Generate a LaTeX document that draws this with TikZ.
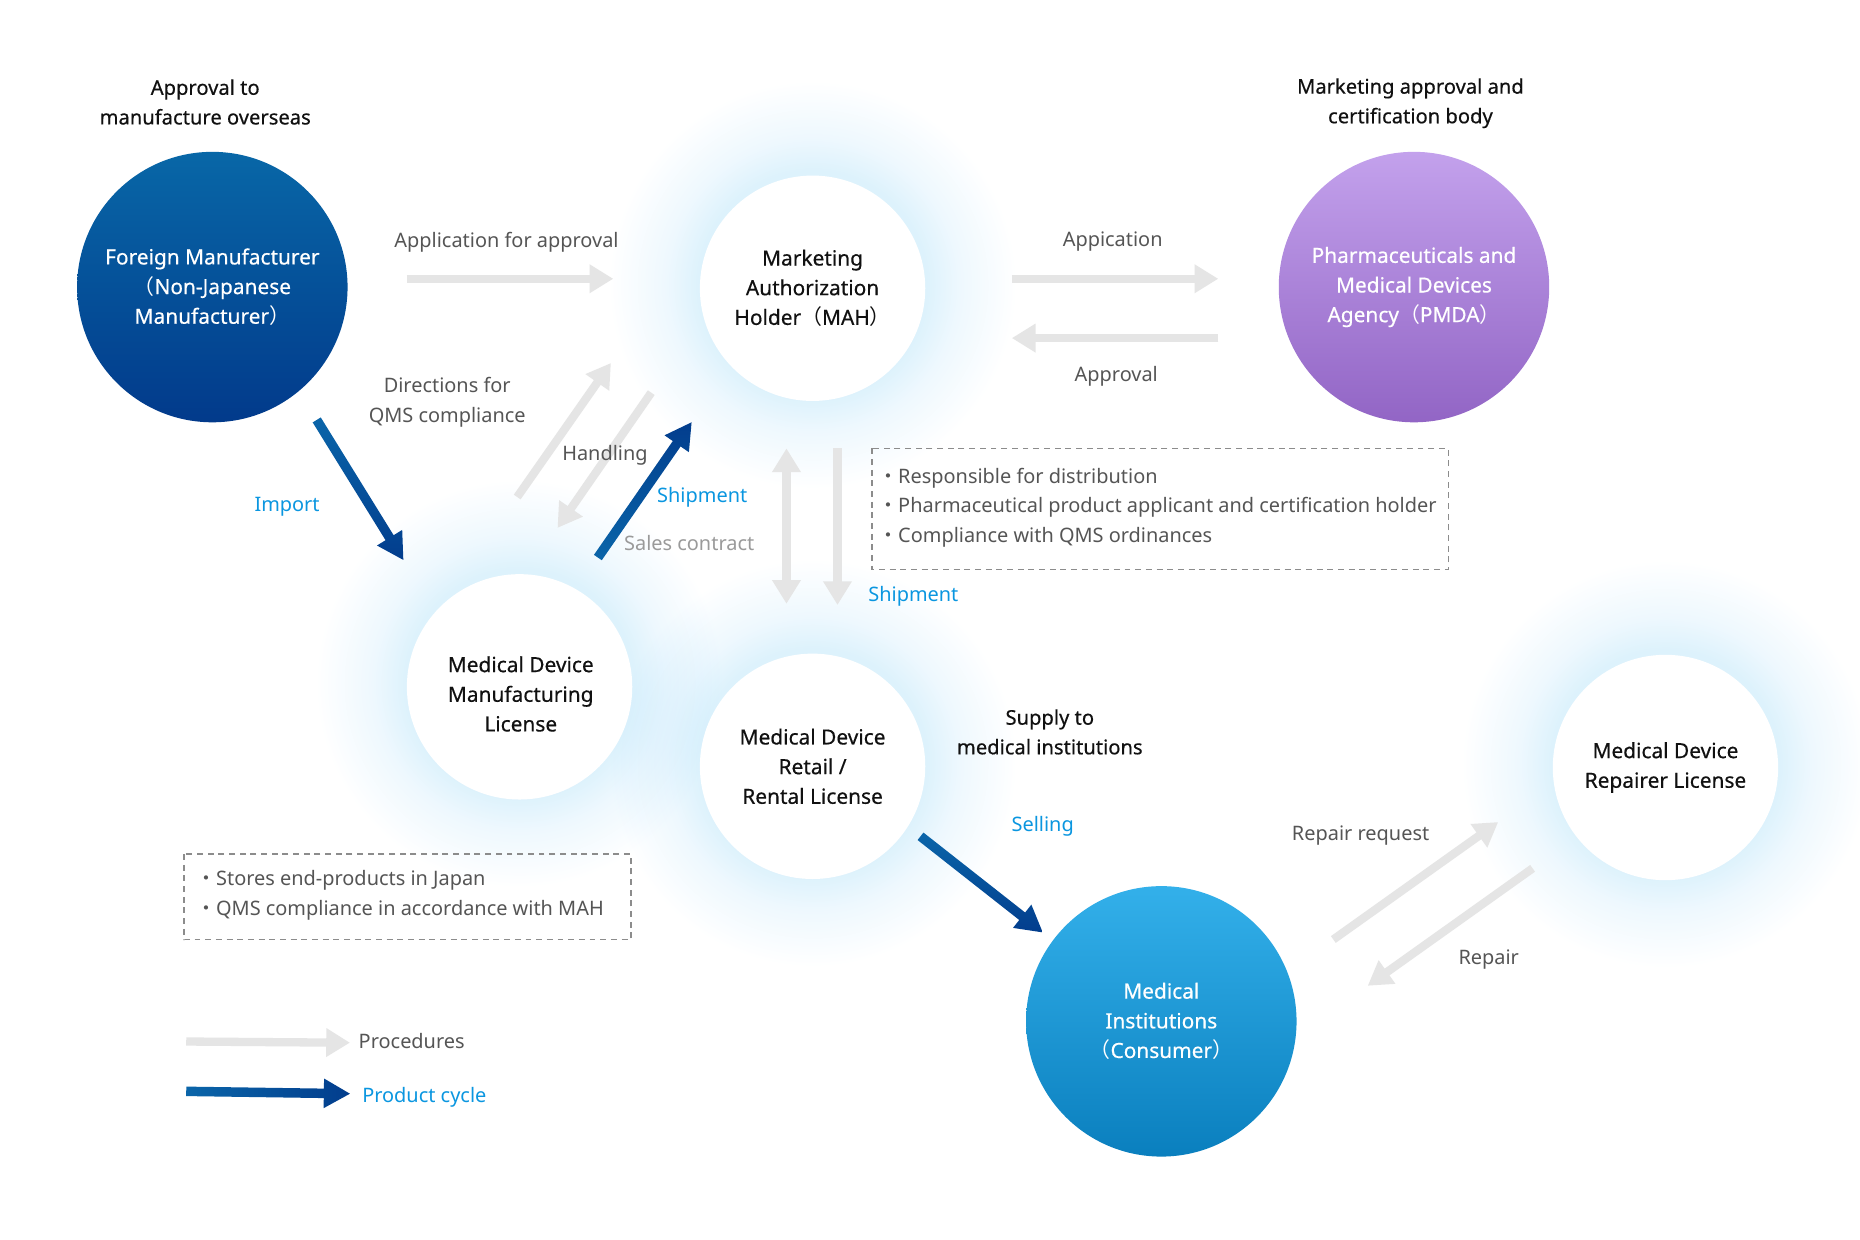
\documentclass[tikz,border=0pt]{standalone}
\usepackage{fontspec}
\setmainfont{Noto Sans}
\newfontfamily\medfont{Noto Sans}[FakeBold=0.45]
\newfontfamily\cjkfont{Noto Sans CJK JP}
\usetikzlibrary{arrows.meta,shadings,calc}
\newcommand{\fwlp}{{\cjkfont （}}
\newcommand{\fwrp}{{\cjkfont ）}}
\newcommand{\fwbul}{{\cjkfont ・}}
\newcommand{\labfont}{\fontsize{8.4}{12.5}\selectfont}
\newcommand{\blabfont}{\medfont\fontsize{8.5}{12.5}\selectfont}
\newcommand{\circfont}{\medfont\fontsize{8.8}{12.5}\selectfont}
\definecolor{procgray}{HTML}{E5E5E5}
\definecolor{prodtail}{HTML}{0A65A9}
\definecolor{prodhead}{HTML}{023D8D}
\definecolor{lblue}{HTML}{0A96E0}
\definecolor{tgray}{HTML}{555555}
\definecolor{tlgray}{HTML}{9A9A9A}
\definecolor{tblack}{HTML}{111111}
\definecolor{glowc}{HTML}{DDF2FC}
\definecolor{glowm}{HTML}{EEF8FE}
\definecolor{dashgray}{HTML}{8C8C8C}
\definecolor{fmtop}{HTML}{0867A7}
\definecolor{fmbot}{HTML}{023A8B}
\definecolor{pmtop}{HTML}{C3A1EC}
\definecolor{pmbot}{HTML}{9265C5}
\definecolor{mitop}{HTML}{33B0EA}
\definecolor{mibot}{HTML}{0A7FBE}
\pgfdeclareradialshading{glowshade}{\pgfpoint{0bp}{0bp}}{color(0bp)=(glowc); color(14bp)=(glowc); color(18bp)=(glowm); color(25bp)=(white); color(50bp)=(white)}
% shaded product arrow: #1 tail, #2 tip, #3 shading options
\newcommand{\prodarrow}[3]{%
  \coordinate (#1h) at ($(#2)!11pt!(#1)$);
  \shade[#3] ($(#1)!2pt!90:(#2)$) -- ($(#1h)!2pt!-90:(#1)$) -- ($(#1h)!6.25pt!-90:(#1)$) -- (#2)
     -- ($(#1h)!6.25pt!90:(#1)$) -- ($(#1h)!2pt!90:(#1)$) -- ($(#1)!2pt!-90:(#2)$) -- cycle;}
\begin{document}
\begin{tikzpicture}[x=0.5pt,y=-0.5pt,
  whitecirc/.style={circle, fill=white, minimum size=95pt, inner sep=0pt, align=center, font=\circfont, text=tblack},
  bigcirc/.style={circle, minimum size=114pt, inner sep=0pt, align=center, font=\circfont, text=white},
  lab/.style={align=center, font=\labfont, text=tgray, inner sep=0pt},
  blab/.style={align=center, font=\blabfont, text=tblack, inner sep=0pt},
  bluelab/.style={align=center, font=\labfont, text=lblue, inner sep=0pt},
  proc/.style={draw=procgray, line width=3.5pt, -{Triangle[length=10pt,width=11.5pt]}},
  procboth/.style={draw=procgray, line width=3.5pt, {Triangle[length=10pt,width=11.5pt]}-{Triangle[length=10pt,width=11.5pt]}},
  dashbox/.style={draw=dashgray, line width=0.6pt, dash pattern=on 2.5pt off 2pt},
  boxtext/.style={align=left, font=\labfont, text=tgray, inner sep=0pt, anchor=west}
]
\useasboundingbox (0,0) rectangle (1568,1045);
\fill[white] (0,0) rectangle (1568,1045);

% glows
\begin{scope}[blend mode=multiply]
\shade[shading=glowshade] (685,240) circle (172);
\shade[shading=glowshade] (438,576) circle (172);
\shade[shading=glowshade] (685,643) circle (172);
\shade[shading=glowshade] (1404,644) circle (172);
\end{scope}

% circles
\node[bigcirc, top color=fmtop, bottom color=fmbot] (fm) at (179,242) {Foreign Manufacturer\\\fwlp Non-Japanese\\Manufacturer\fwrp};
\node[whitecirc] (mah) at (685,243) {Marketing\\Authorization\\Holder\fwlp MAH\fwrp};
\node[bigcirc, top color=pmtop, bottom color=pmbot] (pmda) at (1192,242) {Pharmaceuticals and\\Medical Devices\\Agency\fwlp PMDA\fwrp};
\node[whitecirc] (mfg) at (438,579) {};
\node[align=center, font=\circfont, text=tblack, inner sep=0pt] (mfgt) at (439,585) {Medical Device\\Manufacturing\\License};
\node[whitecirc] (retail) at (685,646) {Medical Device\\Retail /\\Rental License};
\node[bigcirc, top color=mitop, bottom color=mibot] (mi) at (979,861) {Medical\\Institutions\\\fwlp Consumer\fwrp};
\node[whitecirc] (rep) at (1404,647) {Medical Device\\Repairer License};

% header labels
\node[blab] (hfm) at (173,86) {Approval to\\manufacture overseas};
\node[blab] (hpm) at (1189,87) {Marketing approval and\\certification body};
\node[blab] (hsup) at (885,617) {Supply to\\medical institutions};

% arrow end coordinates
\coordinate (apS) at (343,235); \coordinate (apE) at (517,235);
\coordinate (ppS) at (853,235); \coordinate (ppE) at (1027,235);
\coordinate (avS) at (1027,285); \coordinate (avE) at (853,285);
\coordinate (dqS) at (436,419); \coordinate (dqE) at (515,306);
\coordinate (hdS) at (549,331); \coordinate (hdE) at (470,445);
\coordinate (shS) at (504,470); \coordinate (shE) at (583,356);
\coordinate (imS) at (267,354); \coordinate (imE) at (340,472);
\coordinate (scT) at (663,378); \coordinate (scB) at (663,509);
\coordinate (sdS) at (706,378); \coordinate (sdE) at (706,510);
\coordinate (slS) at (776,705); \coordinate (slE) at (879,786);
\coordinate (rqS) at (1124,792); \coordinate (rqE) at (1263,693);
\coordinate (rpS) at (1292,732); \coordinate (rpE) at (1153,831);
\coordinate (lgS) at (157,878); \coordinate (lgE) at (295,879);
\coordinate (lbS) at (157,920); \coordinate (lbE) at (295,922);

% procedure arrows
\draw[proc] (apS) -- (apE);
\draw[proc] (ppS) -- (ppE);
\draw[proc] (avS) -- (avE);
\draw[proc] (dqS) -- (dqE);
\draw[proc] (hdS) -- (hdE);
\draw[procboth] (scT) -- (scB);
\draw[proc] (sdS) -- (sdE);
\draw[proc] (rqS) -- (rqE);
\draw[proc] (rpS) -- (rpE);
\draw[proc] (lgS) -- (lgE);

% product arrows
\prodarrow{imS}{imE}{top color=prodtail, bottom color=prodhead}
\prodarrow{shS}{shE}{top color=prodhead, bottom color=prodtail}
\prodarrow{slS}{slE}{top color=prodtail, bottom color=prodhead}
\prodarrow{lbS}{lbE}{left color=prodtail, right color=prodhead}

% arrow labels
\node[lab] (lap) at (427,204) {Application for approval};
\node[lab] (lpp) at (938,204) {Appication};
\node[lab] (lav) at (941,317) {Approval};
\node[lab] (ldq) at (377,339) {Directions for\\QMS compliance};
\node[lab] (lhd) at (510,384) {Handling};
\node[bluelab] (lsh) at (592,419) {Shipment};
\node[lab, text=tlgray] (lsc) at (581,458) {Sales contract};
\node[bluelab] (lim) at (242,427) {Import};
\node[bluelab] (lsd) at (770,503) {Shipment};
\node[bluelab] (lsl) at (879,697) {Selling};
\node[lab] (lrq) at (1147,704) {Repair request};
\node[lab] (lrp) at (1255,809) {Repair};
\node[lab, anchor=west] (lgp) at (302,878) {Procedures};
\node[bluelab, anchor=west] (lgb) at (305,925) {Product cycle};

% dashed boxes
\draw[dashbox] (735,378) rectangle (1221,480);
\node[boxtext] (bx1) at (740,428) {\fwbul Responsible for distribution\\\fwbul Pharmaceutical product applicant and certification holder\\\fwbul Compliance with QMS ordinances};
\draw[dashbox] (155,720) rectangle (532,792);
\node[boxtext] (bx2) at (165,755) {\fwbul Stores end-products in Japan\\\fwbul QMS compliance in accordance with MAH};
\end{tikzpicture}
\end{document}
